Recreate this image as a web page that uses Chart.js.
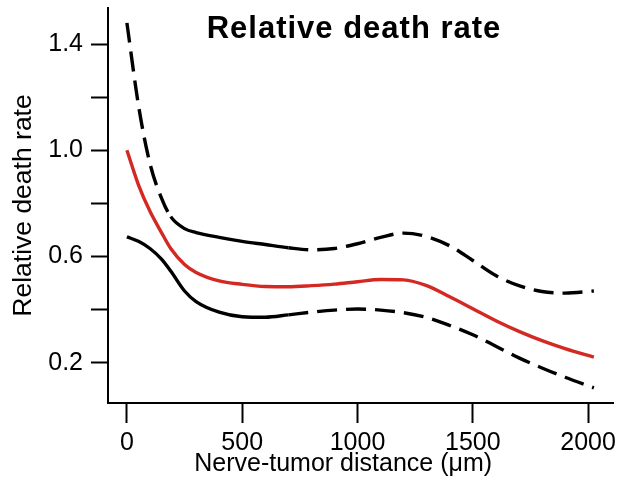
<!DOCTYPE html>
<html lang="en">
<head>
<meta charset="UTF-8">
<title>Relative death rate</title>
<style>
  body { margin: 0; background: #fff; }
</style>
</head>
<body>
<script src="https://cdn.jsdelivr.net/npm/chart.js"></script>
<canvas id="myChart" width="620" height="480"></canvas>
<script>
  // distance from nerve (um) and the three curves
  const distances = [0, 50, 100, 150, 190, 250, 300, 400, 500, 600, 700, 800, 900, 1000, 1100, 1200, 1300, 1400, 1500, 1600, 1700, 1800, 1900, 2025];
  const upperCI = [1.48, 1.17, 0.95, 0.82, 0.75, 0.705, 0.69, 0.672, 0.657, 0.645, 0.633, 0.625, 0.63, 0.648, 0.672, 0.688, 0.675, 0.64, 0.585, 0.528, 0.49, 0.468, 0.462, 0.47];
  const deathRate = [1.0, 0.87, 0.77, 0.69, 0.63, 0.57, 0.54, 0.508, 0.495, 0.487, 0.486, 0.49, 0.496, 0.505, 0.513, 0.512, 0.49, 0.448, 0.403, 0.358, 0.318, 0.283, 0.253, 0.221];
  const lowerCI = [0.674, 0.657, 0.63, 0.59, 0.545, 0.47, 0.43, 0.39, 0.373, 0.371, 0.38, 0.39, 0.398, 0.402, 0.398, 0.388, 0.37, 0.34, 0.305, 0.262, 0.218, 0.18, 0.145, 0.105];

  const xTicks = [0, 500, 1000, 1500, 2000];
  const yTicks = [0.2, 0.4, 0.6, 0.8, 1.0, 1.2, 1.4];
  const yTickLabels = ['0.2', '', '0.6', '', '1.0', '', '1.4'];

  const chartTitle = 'Relative death rate';
  const FONT = '"Liberation Sans", Arial, Helvetica, sans-serif';
  const DASH = [20, 9];

  // solid only between ~190 and 700 um
  const solidFrom = 190, solidTo = 700;

  function pts(arr) {
    return distances.map((d, i) => ({x: d, y: arr[i]}));
  }

  const titlePlugin = {
    id: 'innerTitle',
    afterDraw(chart) {
      const ctx = chart.ctx;
      ctx.save();
      ctx.font = 'bold 31px ' + FONT;
      if ('letterSpacing' in ctx) ctx.letterSpacing = '1px';
      ctx.fillStyle = '#000';
      ctx.textAlign = 'center';
      ctx.textBaseline = 'alphabetic';
      ctx.fillText(chartTitle, 354, 38);
      ctx.restore();
    }
  };

  const data = {
    datasets: [{
      label: 'Upper',
      data: pts(upperCI),
      borderColor: '#000',
      segment: {
        borderDash: c => (c.p0.parsed.x >= solidFrom && c.p1.parsed.x <= solidTo) ? [] : DASH
      }
    }, {
      label: 'Relative death rate',
      data: pts(deathRate),
      borderColor: 'rgb(212, 40, 34)'
    }, {
      label: 'Lower',
      data: pts(lowerCI),
      borderColor: '#000',
      segment: {
        borderDash: c => (c.p1.parsed.x <= solidTo) ? [] : DASH
      }
    }]
  };

  const config = {
    type: 'line',
    data,
    options: {
      responsive: false,
      animation: false,
      layout: { padding: { top: 8, right: 7, left: 0, bottom: 0 } },
      elements: {
        line: { borderWidth: 3.4, cubicInterpolationMode: 'monotone', borderCapStyle: 'butt' },
        point: { radius: 0 }
      },
      plugins: {
        legend: { display: false },
        tooltip: { enabled: false }
      },
      scales: {
        x: {
          type: 'linear',
          min: -82,
          max: 2108,
          afterBuildTicks: s => { s.ticks = xTicks.map(v => ({value: v})); },
          afterFit: s => { s.height = 77; s.paddingLeft = 0; s.paddingRight = 0; },
          border: { display: true, color: '#000', width: 2 },
          grid: { display: true, drawOnChartArea: false, drawTicks: true, tickLength: 20, tickWidth: 2, tickColor: '#000' },
          ticks: {
            color: '#000',
            padding: 5,
            maxRotation: 0,
            font: { family: FONT, size: 25 },
            callback: v => String(v)
          },
          title: {
            display: true,
            text: 'Nerve-tumor distance (μm)\u00a0\u00a0\u00a0\u00a0\u00a0',
            color: '#000',
            font: { family: FONT, size: 25 },
            padding: { top: 0, bottom: 1 }
          }
        },
        y: {
          min: 0.048,
          max: 1.536,
          afterBuildTicks: s => { s.ticks = yTicks.map(v => ({value: v})); },
          afterFit: s => { s.width = 108; s.paddingTop = 0; s.paddingBottom = 0; },
          border: { display: true, color: '#000', width: 2 },
          grid: { display: true, drawOnChartArea: false, drawTicks: true, tickLength: 17, tickWidth: 2, tickColor: '#000' },
          ticks: {
            color: '#000',
            padding: 8,
            font: { family: FONT, size: 25 },
            callback: (v, i) => yTickLabels[i]
          },
          title: {
            display: true,
            text: 'Relative death rate',
            color: '#000',
            font: { family: FONT, size: 26.5 },
            padding: { top: 8, bottom: 0 }
          }
        }
      }
    },
    plugins: [titlePlugin]
  };

  const myChart = new Chart(document.getElementById('myChart'), config);
</script>
</body>
</html>
